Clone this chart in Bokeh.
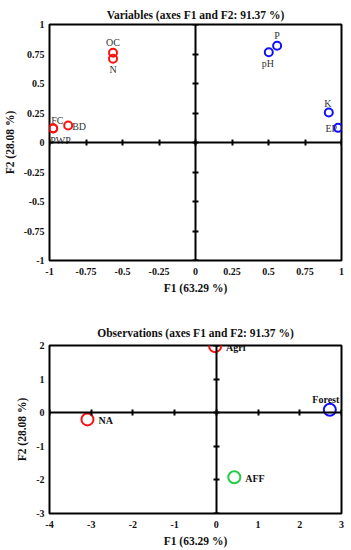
from bokeh.plotting import figure
from bokeh.models import LinearAxis, FixedTicker, ColumnDataSource, Range1d
from bokeh.layouts import column
from bokeh.core.properties import value
from bokeh.embed import file_html
from bokeh.resources import INLINE

# ---- data: variables ----
var_names = ["OC", "N", "FC", "BD", "PWP", "pH", "P", "K", "EP"]
var_f1 = [-0.565, -0.565, -0.975, -0.872, -0.975, 0.502, 0.559, 0.913, 0.977]
var_f2 = [0.76, 0.71, 0.12, 0.144, 0.118, 0.765, 0.82, 0.254, 0.124]
var_group = ["red", "red", "red", "red", "red", "blue", "blue", "blue", "blue"]

# ---- data: observations ----
obs_names = ["Agri", "Forest", "NA", "AFF"]
obs_f1 = [-0.03, 2.72, -3.09, 0.43]
obs_f2 = [1.98, 0.09, -0.2, -1.92]
obs_group = ["red", "blue", "red", "green"]

var_ticks = [-1, -0.75, -0.5, -0.25, 0, 0.25, 0.5, 0.75, 1]
var_tick_labels = ["-1", "-0.75", "-0.5", "-0.25", "0", "0.25", "0.5", "0.75", "1"]
obs_xticks = [-4, -3, -2, -1, 0, 1, 2, 3]
obs_yticks = [-3, -2, -1, 0, 1, 2]

title1 = "Variables (axes F1 and F2: 91.37 %)"
title2 = "Observations (axes F1 and F2: 91.37 %)"
xlab = "F1 (63.29 %)"
ylab = "F2 (28.08 %)"

# ---- styles ----
COLORS = {"red": "#ff1010", "blue": "#1010ff", "green": "#22cc44"}
SERIF = "Liberation Serif"

# label placement: (x_offset, y_offset, align, baseline)
VAR_LABEL_POS = {
    "OC": (0, -5, "center", "bottom"),
    "N": (0, 5, "center", "top"),
    "FC": (-2, -2, "left", "bottom"),
    "BD": (4, 1, "left", "middle"),
    "PWP": (-3, 6, "left", "top"),
    "pH": (-1, 6, "center", "top"),
    "P": (0, -5, "center", "bottom"),
    "K": (-1, -4, "center", "bottom"),
    "EP": (-1, 1, "right", "middle"),
}
OBS_LABEL_POS = {
    "Agri": (11, 1, "left", "middle"),
    "Forest": (-4, -5, "center", "bottom"),
    "NA": (11, 1, "left", "middle"),
    "AFF": (11, 1, "left", "middle"),
}


def style(p, xt, yt, xlabels=None, ylabels=None):
    p.toolbar.logo = None
    p.grid.visible = False
    p.outline_line_color = "black"
    p.outline_line_width = 2
    p.outline_line_alpha = 1
    p.background_fill_color = "white"
    p.border_fill_color = "white"
    p.title.text_font = SERIF
    p.title.text_font_style = "bold"
    p.title.text_font_size = "11.5px"
    p.title.align = "center"
    p.title.text_color = "#111111"
    for ax, ticks, labels in ((p.xaxis[0], xt, xlabels), (p.yaxis[0], yt, ylabels)):
        ax.ticker = FixedTicker(ticks=ticks)
        if labels:
            ax.major_label_overrides = {t: l for t, l in zip(ticks, labels)}
        else:
            ax.major_label_overrides = {t: str(t) for t in ticks}
        ax.axis_line_color = None
        ax.major_tick_in = 0
        ax.major_tick_out = 0
        ax.minor_tick_in = 0
        ax.minor_tick_out = 0
        ax.major_label_text_font = SERIF
        ax.major_label_text_font_style = "bold"
        ax.major_label_text_font_size = "10px"
        ax.major_label_text_color = "#111111"
        ax.axis_label_text_font = SERIF
        ax.axis_label_text_font_style = "bold"
        ax.axis_label_text_font_size = "11.5px"
        ax.axis_label_text_color = "#111111"
    p.xaxis[0].axis_label = xlab
    p.yaxis[0].axis_label = ylab
    p.xaxis[0].major_label_standoff = 7
    p.yaxis[0].major_label_standoff = 5
    p.xaxis[0].axis_label_standoff = 4
    p.yaxis[0].axis_label_standoff = 5
    # inner zero axes with crossing ticks
    for loc, ticks in (("below", xt), ("left", yt)):
        ax = LinearAxis(fixed_location=0, ticker=FixedTicker(ticks=ticks))
        ax.axis_line_width = 2
        ax.axis_line_color = "black"
        ax.major_tick_in = 3
        ax.major_tick_out = 3
        ax.major_tick_line_width = 2
        ax.minor_tick_in = 0
        ax.minor_tick_out = 0
        ax.major_label_text_font_size = "0px"
        ax.major_label_text_alpha = 0
        p.add_layout(ax, loc)


def add_points(p, names, xs, ys, groups, pos, size, bold, tcolor):
    src = ColumnDataSource(dict(
        x=xs, y=ys, name=names,
        color=[COLORS[g] for g in groups],
        xo=[pos[n][0] for n in names],
        yo=[pos[n][1] for n in names],
        al=[pos[n][2] for n in names],
        bl=[pos[n][3] for n in names],
    ))
    p.text(x="x", y="y", text="name", source=src, x_offset="xo", y_offset="yo",
           text_align="al", text_baseline="bl", text_font=value(SERIF),
           text_font_size="10px", text_font_style="bold" if bold else "normal",
           text_color=tcolor)
    p.scatter(x="x", y="y", source=src, marker="circle", size=size,
              fill_color=None, line_color="color", line_width=2)


p1 = figure(width=351, height=300, output_backend="svg", toolbar_location=None,
            x_range=Range1d(-1, 1), y_range=Range1d(-1, 1), title=title1,
            min_border_left=49, min_border_right=10, min_border_top=24,
            min_border_bottom=40)
style(p1, var_ticks, var_ticks, var_tick_labels, var_tick_labels)
p1.title.standoff = 8
add_points(p1, var_names, var_f1, var_f2, var_group, VAR_LABEL_POS, 8, False, "#333333")

p2 = figure(width=351, height=250, output_backend="svg", toolbar_location=None,
            x_range=Range1d(-4, 3), y_range=Range1d(-3, 2), title=title2,
            min_border_left=48, min_border_right=9, min_border_top=45,
            min_border_bottom=37)
style(p2, obs_xticks, obs_yticks)
p2.title.standoff = 13
add_points(p2, obs_names, obs_f1, obs_f2, obs_group, OBS_LABEL_POS, 12, True, "#111111")

layout = column(p1, p2, spacing=0)
open("out.html", "w").write(file_html(layout, INLINE))
